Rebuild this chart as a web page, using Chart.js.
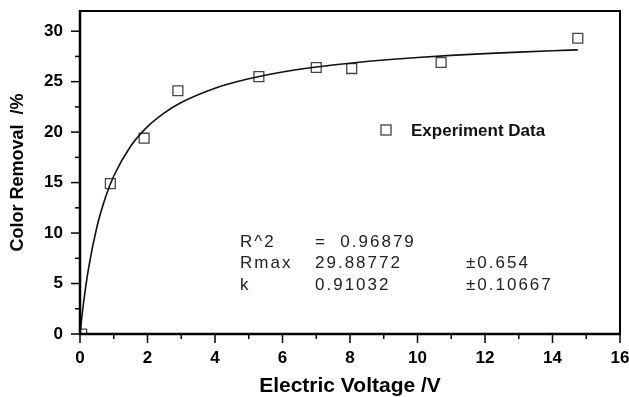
<!DOCTYPE html>
<html>
<head>
<meta charset="utf-8">
<script src="https://cdn.jsdelivr.net/npm/chart.js@4.4.0/dist/chart.umd.min.js"></script>
<style>
  body { margin: 0; background: #fff; }
  canvas { display: block; }
</style>
</head>
<body>
<canvas id="chart" width="629" height="397"></canvas>
<script>
// measured points
const voltage = [0.05, 0.9, 1.9, 2.9, 5.3, 7.0, 8.05, 10.7, 14.75];
const removal = [0, 14.9, 19.4, 24.1, 25.5, 26.4, 26.3, 26.9, 29.3];

// fitted curve
const fitVoltage = [0, 0.1, 0.25, 0.5, 0.75, 1, 1.5, 2, 2.5, 3, 4, 5, 6, 7, 8, 9, 10, 11, 12, 13, 14, 14.75];
const fitRemoval = [0, 2.96, 6.44, 10.6, 13.5, 15.65, 18.6, 20.54, 21.91, 22.93, 24.35, 25.28, 25.95, 26.45, 26.83, 27.14, 27.39, 27.6, 27.78, 27.93, 28.06, 28.15];

const legendLabel = 'Experiment Data';
const fitRows = [
  ['R^2', '=  0.96879', ''],
  ['Rmax', '29.88772', '\u00b10.654'],
  ['k', '0.91032', '\u00b10.10667']
];

const FONT = '"Liberation Sans", Arial, Helvetica, sans-serif';

// frame, tick marks, legend and fit text
const decorations = {
  id: 'decorations',
  afterDraw(chart) {
    const ctx = chart.ctx;
    const a = chart.chartArea;
    const xs = chart.scales.x, ys = chart.scales.y;
    ctx.save();
    ctx.strokeStyle = '#000';

    // tick marks
    ctx.lineWidth = 1.5;
    xs.ticks.forEach(t => {
      const px = xs.getPixelForValue(t.value);
      const len = t.value % 2 === 0 ? 9 : 5;
      ctx.beginPath();
      ctx.moveTo(px, a.bottom);
      ctx.lineTo(px, a.bottom + len);
      ctx.stroke();
    });
    ys.ticks.forEach(t => {
      const py = ys.getPixelForValue(t.value);
      const len = t.value % 5 === 0 ? 9 : 5;
      ctx.beginPath();
      ctx.moveTo(a.left, py);
      ctx.lineTo(a.left - len, py);
      ctx.stroke();
    });

    // box
    ctx.lineWidth = 2;
    ctx.beginPath();
    ctx.moveTo(a.left, a.top);
    ctx.lineTo(a.right, a.top);
    ctx.lineTo(a.right, a.bottom);
    ctx.stroke();
    ctx.lineWidth = 2.5;
    ctx.beginPath();
    ctx.moveTo(a.left, a.top - 1);
    ctx.lineTo(a.left, a.bottom);
    ctx.lineTo(a.right + 1, a.bottom);
    ctx.stroke();

    // legend
    ctx.lineWidth = 1.3;
    ctx.strokeStyle = '#444';
    ctx.strokeRect(381, 125, 10, 10);
    ctx.fillStyle = '#111';
    ctx.font = 'bold 17px ' + FONT;
    ctx.textBaseline = 'middle';
    ctx.textAlign = 'left';
    ctx.fillText(legendLabel, 411, 131);

    // fit parameters
    ctx.font = '17px ' + FONT;
    ctx.letterSpacing = '2px';
    ctx.fillStyle = '#222';
    const rowY = [242, 263, 285];
    const colX = [240, 315, 466];
    fitRows.forEach((row, i) => {
      row.forEach((txt, j) => ctx.fillText(txt, colX[j], rowY[i]));
    });
    ctx.restore();
  }
};

new Chart(document.getElementById('chart'), {
  type: 'scatter',
  data: {
    datasets: [
      {
        data: fitVoltage.map((v, i) => ({ x: v, y: fitRemoval[i] })),
        showLine: true,
        borderColor: '#111',
        borderWidth: 1.6,
        pointRadius: 0,
        cubicInterpolationMode: 'monotone',
        fill: false
      },
      {
        data: voltage.map((v, i) => ({ x: v, y: removal[i] })),
        pointStyle: 'rect',
        pointRadius: 7,
        pointBorderColor: '#444',
        pointBackgroundColor: 'rgba(255,255,255,0)',
        pointBorderWidth: 1.3,
        clip: 0
      }
    ]
  },
  options: {
    responsive: false,
    animation: false,
    layout: { padding: { top: 11, right: 9, left: 0, bottom: 0 } },
    plugins: { legend: { display: false }, tooltip: { enabled: false } },
    scales: {
      x: {
        type: 'linear',
        min: 0,
        max: 16,
        afterFit: s => { s.height = 63; s.paddingLeft = 0; s.paddingRight = 0; },
        grid: { display: false, drawTicks: true, tickLength: 14 },
        border: { display: false },
        ticks: {
          stepSize: 1,
          padding: 0,
          color: '#000',
          maxRotation: 0,
          autoSkip: false,
          font: { family: FONT, size: 17, weight: 'bold' },
          callback: v => (v % 2 === 0 ? String(v) : '')
        },
        title: {
          display: true,
          text: 'Electric Voltage /V',
          color: '#000',
          font: { family: FONT, size: 21, weight: 'bold', lineHeight: 1 },
          padding: { top: 0, bottom: 0 }
        }
      },
      y: {
        type: 'linear',
        min: 0,
        max: 32,
        afterFit: s => { s.width = 80; s.paddingTop = 0; s.paddingBottom = 0; },
        grid: { display: false, drawTicks: true, tickLength: 17 },
        border: { display: false },
        ticks: {
          stepSize: 2.5,
          includeBounds: false,
          padding: 0,
          color: '#000',
          autoSkip: false,
          font: { family: FONT, size: 17, weight: 'bold' },
          callback: v => (v % 5 === 0 ? String(v) : '')
        },
        title: {
          display: true,
          text: 'Color Removal  /%',
          color: '#000',
          font: { family: FONT, size: 18, weight: 'bold' },
          padding: { top: 7, bottom: 0 }
        }
      }
    }
  },
  plugins: [decorations]
});
</script>
</body>
</html>
